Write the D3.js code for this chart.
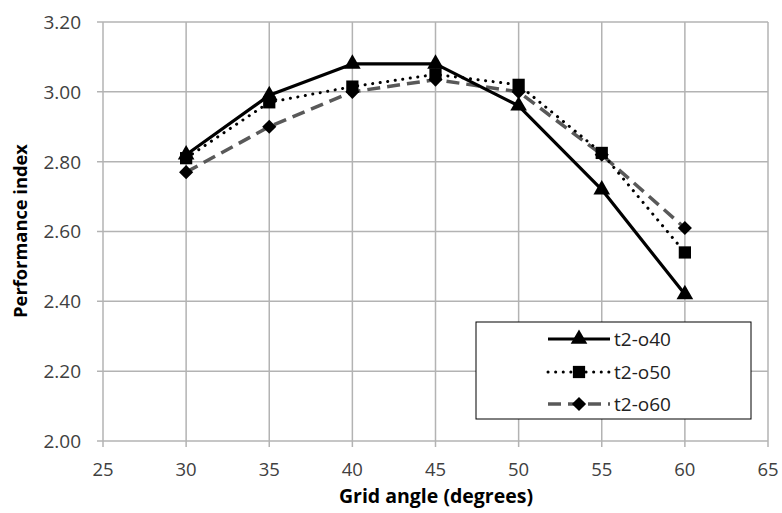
<!DOCTYPE html>
<html><head><meta charset="utf-8">
<script src="https://cdn.jsdelivr.net/npm/d3@7"></script>
<style>body{margin:0;background:#fff}svg{display:block}</style>
</head><body>
<script>
const angles = [30, 35, 40, 45, 50, 55, 60];
const o40 = [2.82, 2.99, 3.08, 3.08, 2.96, 2.72, 2.42];
const o50 = [2.81, 2.97, 3.015, 3.05, 3.02, 2.825, 2.54];
const o60 = [2.77, 2.90, 3.00, 3.035, 3.00, 2.82, 2.61];
const seriesNames = ["t2-o40", "t2-o50", "t2-o60"];
const xTicks = [25, 30, 35, 40, 45, 50, 55, 60, 65];
const yTicks = [2.0, 2.2, 2.4, 2.6, 2.8, 3.0, 3.2];

const W = 782, H = 513;
const m = {l: 103, r: 14, t: 22, b: 72};
const svg = d3.select("body").append("svg").attr("width", W).attr("height", H);
const x = d3.scaleLinear().domain([25, 65]).range([m.l, W - m.r]);
const y = d3.scaleLinear().domain([2.0, 3.2]).range([H - m.b, m.t]);
const font = "'Open Sans', sans-serif";
const gridC = "#b3b3b3";

const symDiamondSq = {draw(ctx, size) {
  const r = Math.sqrt(size / 2);
  ctx.moveTo(0, -r); ctx.lineTo(r, 0); ctx.lineTo(0, r); ctx.lineTo(-r, 0); ctx.closePath();
}};

// grid
svg.append("g").selectAll("line").data(yTicks).join("line")
  .attr("x1", x(25) - 6).attr("x2", x(65)).attr("y1", d => y(d)).attr("y2", d => y(d))
  .attr("stroke", gridC).attr("stroke-width", 1.5);
svg.append("g").selectAll("line").data(xTicks).join("line")
  .attr("x1", d => x(d)).attr("x2", d => x(d)).attr("y1", y(3.2)).attr("y2", y(2.0) + 6)
  .attr("stroke", gridC).attr("stroke-width", 1.5);

// tick labels
svg.append("g").selectAll("text").data(yTicks).join("text")
  .attr("x", x(25) - 22).attr("y", d => y(d)).attr("dy", "0.36em")
  .attr("text-anchor", "end").attr("font-family", font).attr("font-size", 19).attr("fill", "#404040")
  .text(d => d.toFixed(2));
svg.append("g").selectAll("text").data(xTicks).join("text")
  .attr("x", d => x(d)).attr("y", y(2.0) + 35)
  .attr("text-anchor", "middle").attr("font-family", font).attr("font-size", 18.5).attr("fill", "#404040")
  .text(d => d);

// axis titles
svg.append("text").attr("x", 436).attr("y", 503)
  .attr("text-anchor", "middle").attr("font-family", font).attr("font-size", 19.5).attr("font-weight", "bold")
  .text("Grid angle (degrees)");
svg.append("text").attr("transform", `translate(27,231) rotate(-90)`)
  .attr("text-anchor", "middle").attr("font-family", font).attr("font-size", 18.3).attr("font-weight", "bold")
  .text("Performance index");

const styles = [
  {vals: o40, stroke: "#000", width: 3.2, dash: null, cap: "butt", sym: d3.symbolTriangle, size: 120},
  {vals: o50, stroke: "#000", width: 3, dash: "0.1,7.5", cap: "round", sym: d3.symbolSquare, size: 150},
  {vals: o60, stroke: "#595959", width: 3.5, dash: "13,7", cap: "butt", sym: symDiamondSq, size: 100}
];
const line = d3.line().x((d, i) => x(angles[i])).y(d => y(d));

[2, 1, 0].forEach(k => {
  const s = styles[k];
  svg.append("path").datum(s.vals).attr("d", line).attr("fill", "none")
    .attr("stroke", s.stroke).attr("stroke-width", s.width)
    .attr("stroke-dasharray", s.dash).attr("stroke-linecap", s.cap).attr("stroke-linejoin", "round");
});
[2, 1, 0].forEach(k => {
  const s = styles[k];
  svg.append("g").selectAll("path").data(s.vals).join("path")
    .attr("transform", (d, i) => `translate(${x(angles[i])},${y(d)})`)
    .attr("d", d3.symbol().type(s.sym).size(s.size)).attr("fill", "#000");
});

// legend
const lg = svg.append("g");
lg.append("rect").attr("x", 476).attr("y", 322).attr("width", 275).attr("height", 97)
  .attr("fill", "#fff").attr("stroke", "#000").attr("stroke-width", 1);
const ly = [339, 372, 404];
styles.forEach((s, k) => {
  lg.append("line").attr("x1", 548).attr("x2", 610).attr("y1", ly[k]).attr("y2", ly[k])
    .attr("stroke", s.stroke).attr("stroke-width", s.width)
    .attr("stroke-dasharray", s.dash).attr("stroke-linecap", s.cap);
  lg.append("path").attr("transform", `translate(579,${ly[k]})`)
    .attr("d", d3.symbol().type(s.sym).size(s.size)).attr("fill", "#000");
  lg.append("text").attr("x", 614).attr("y", ly[k]).attr("dy", "0.36em")
    .attr("font-family", font).attr("font-size", 19).attr("fill", "#222").text(seriesNames[k]);
});
</script>
</body></html>
